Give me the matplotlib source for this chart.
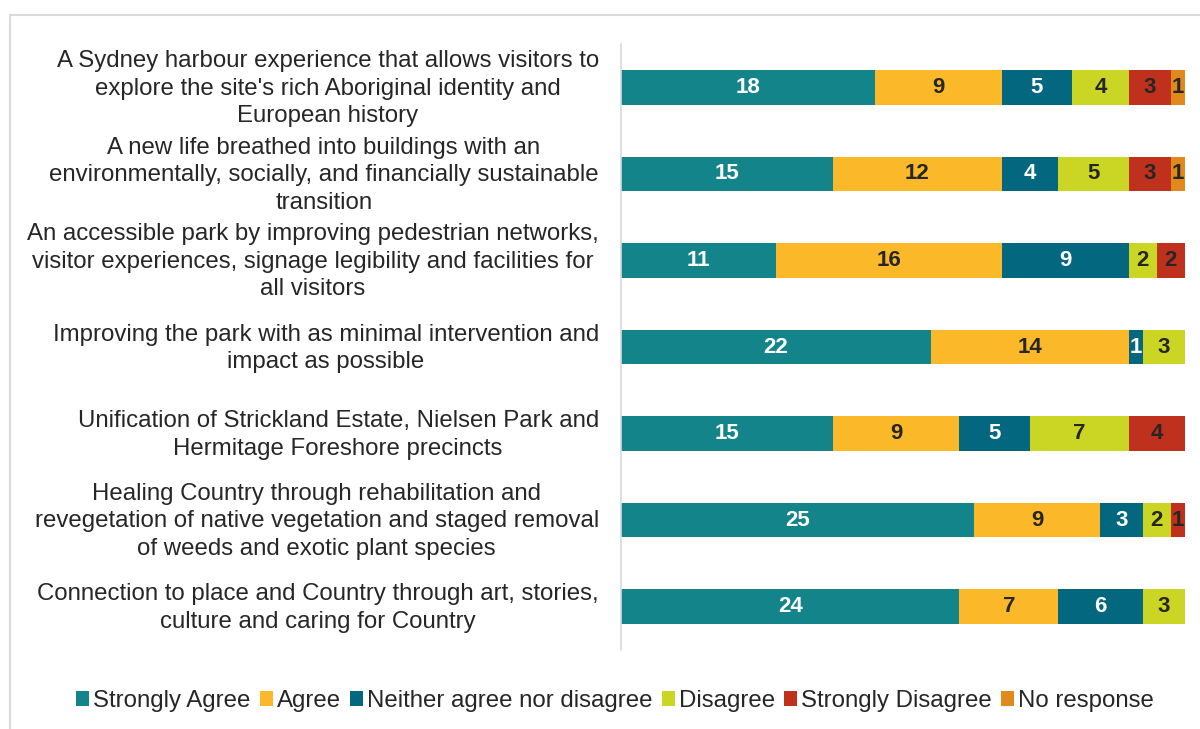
import numpy as np
import matplotlib.pyplot as plt
import matplotlib.transforms as mtransforms
from matplotlib.patches import Rectangle, Patch

plt.rcParams['font.family'] = ['Liberation Sans', 'DejaVu Sans']

# ---- survey data (top row first) ----
statements = [
    "A Sydney harbour experience that allows visitors to\nexplore the site's rich Aboriginal identity and\nEuropean history",
    "A new life breathed into buildings with an\nenvironmentally, socially, and financially sustainable\ntransition",
    "An accessible park by improving pedestrian networks,\nvisitor experiences, signage legibility and facilities for\nall visitors",
    "Improving the park with as minimal intervention and\nimpact as possible",
    "Unification of Strickland Estate, Nielsen Park and\nHermitage Foreshore precincts",
    "Healing Country through rehabilitation and\nrevegetation of native vegetation and staged removal\nof weeds and exotic plant species",
    "Connection to place and Country through art, stories,\nculture and caring for Country",
]
responses = ["Strongly Agree", "Agree", "Neither agree nor disagree",
             "Disagree", "Strongly Disagree", "No response"]

strongly_agree = [18, 15, 11, 22, 15, 25, 24]
agree = [9, 12, 16, 14, 9, 9, 7]
neither = [5, 4, 9, 1, 5, 3, 6]
disagree = [4, 5, 2, 3, 7, 2, 3]
strongly_disagree = [3, 3, 2, 0, 4, 1, 0]
no_response = [1, 1, 0, 0, 0, 0, 0]

series = [strongly_agree, agree, neither, disagree, strongly_disagree, no_response]
colors = ["#13858A", "#FBB829", "#03677F", "#CBD523", "#C0311D", "#E08A1E"]
label_colors = ["white", "#262626", "white", "#262626", "#262626", "#262626"]

fig = plt.figure(figsize=(12, 7.29), dpi=100)
# light frame around the chart area
fig.patches.append(Rectangle((10 / 1200, -0.1), 1.2, 1 - 15 / 729 + 0.1,
                             transform=fig.transFigure, fill=False,
                             edgecolor="#DDDADB", linewidth=1.5))

ax = fig.add_axes([621 / 1200, 1 - 650 / 729, 564 / 1200, 606 / 729])

y = np.arange(len(statements))
left = np.zeros(len(statements))
for vals, col, lcol in zip(series, colors, label_colors):
    vals = np.array(vals, dtype=float)
    bars = ax.barh(y, vals, left=left, height=0.4, color=col, edgecolor="none")
    for b, v in zip(bars, vals):
        if v > 0:
            ax.text(b.get_x() + b.get_width() / 2, b.get_y() + b.get_height() / 2,
                    f"{int(v)}", ha="center", va="center", color=lcol,
                    fontsize=16, fontweight="bold")
    left += vals

ax.set_xlim(0, 40)
ax.set_ylim(len(statements) - 0.5, -0.5)
ax.set_yticks(y)
ax.set_yticklabels(statements, fontsize=17.3, color="#262626",
                   multialignment="center", linespacing=1.32)
ax.tick_params(axis="y", length=0, pad=16)
# nudge the statement labels up a little
shift = mtransforms.ScaledTranslation(0, 4 / 100, fig.dpi_scale_trans)
for lbl in ax.get_yticklabels():
    lbl.set_transform(lbl.get_transform() + shift)
ax.set_xticks([])
for s in ["top", "right", "bottom"]:
    ax.spines[s].set_visible(False)
ax.spines["left"].set_color("#D9D9D9")
ax.spines["left"].set_linewidth(1.2)

handles = [Patch(facecolor=c, edgecolor="none") for c in colors]
fig.legend(handles, responses, loc="center", bbox_to_anchor=(615 / 1200, 1 - 701 / 729),
           ncol=6, frameon=False, fontsize=17.3, handlelength=0.55, handleheight=0.55,
           handletextpad=0.17, columnspacing=0.37, labelcolor="#262626")

fig.savefig("out.png", dpi=100)
